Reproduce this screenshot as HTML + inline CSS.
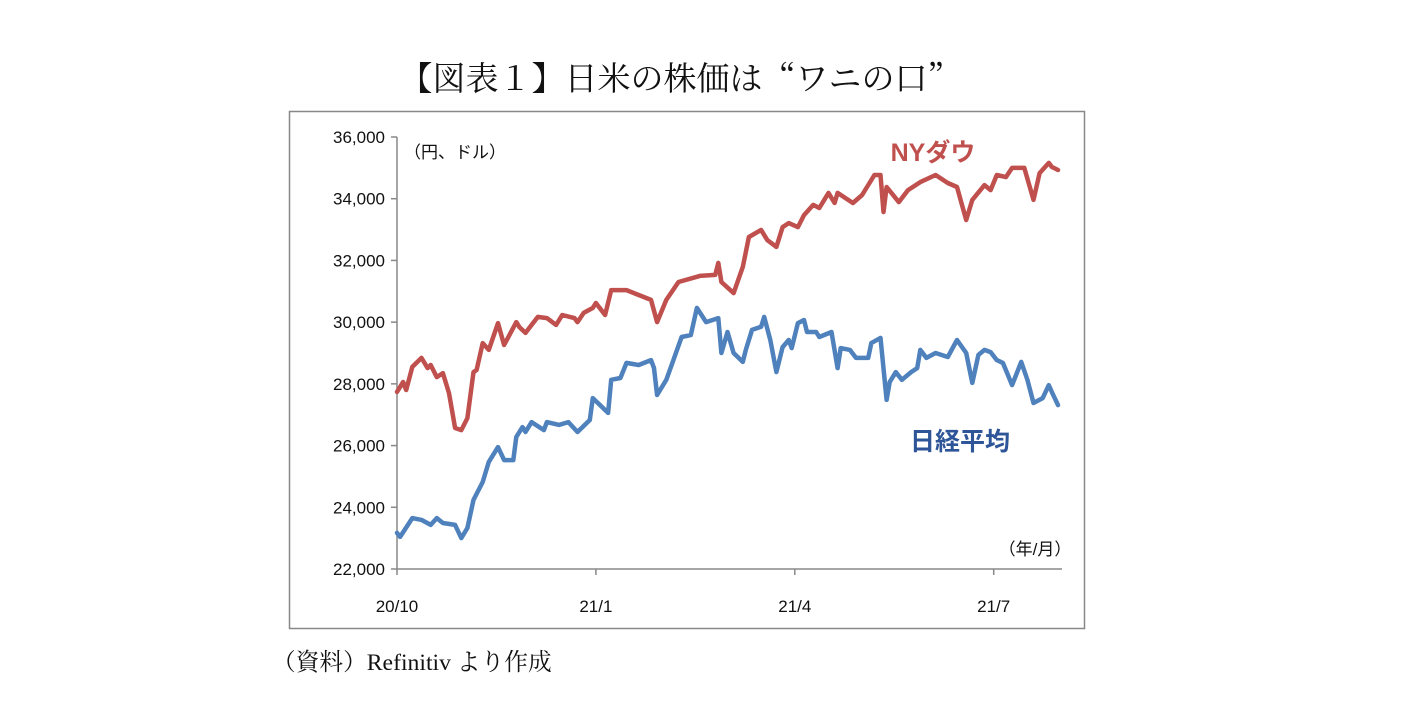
<!DOCTYPE html>
<html><head><meta charset="utf-8"><style>
body{margin:0;background:#fff;width:1401px;height:715px;overflow:hidden}
svg text{font-family:"Liberation Sans","Noto Sans CJK JP",sans-serif}
.serif{font-family:"Liberation Serif","Noto Serif CJK SC",serif !important}
.cjkserif{font-family:"Noto Serif CJK SC",serif !important}
</style></head><body>
<svg width="1401" height="715">
<text class="cjkserif" x="680" y="90" font-size="33" text-anchor="middle" fill="#111">【図表１】日米の株価は“ワニの口”</text>
<rect x="289.5" y="111.5" width="795" height="517" fill="none" stroke="#888" stroke-width="1.5"/>
<g id="axes"></g>
<g id="series"></g>
<text x="455" y="158" font-size="17" text-anchor="middle" fill="#111">（円、ドル）</text>
<text x="1035" y="555" font-size="17" text-anchor="middle" fill="#111">（年/月）</text>
<text x="933" y="161" font-size="25" font-weight="bold" text-anchor="middle" fill="#c0504d">NYダウ</text>
<text x="960" y="450" font-size="25" font-weight="bold" text-anchor="middle" fill="#2e5597">日経平均</text>
<text class="serif" x="272" y="670" font-size="23.7" fill="#111">（資料）Refinitiv より作成</text>
</svg>
<script>
const yTicks=[22000,24000,26000,28000,30000,32000,34000,36000];
const xTickDays=[0,65,130,195];
const xTickLabels=["20/10","21/1","21/4","21/7"];
const dowDays=[0,2,3,5,8,10,11,13,15,17,19,21,23,25,26,28,30,33,35,39,40,42,46,49,52,54,58,59,61,64,65,68,70,75,79,83,85,88,92,99,104,105,106,110,113,115,119,121,124,126,128,131,133,136,138,141,143,144,149,152,156,158,159,160,164,167,171,176,180,183,186,188,192,194,196,199,201,205,208,210,213,214,216];
const dowValues=[27740,28060,27800,28550,28840,28510,28610,28220,28350,27700,26570,26500,26890,28380,28450,29320,29100,29970,29260,30000,29840,29650,30170,30130,29910,30230,30130,30000,30300,30460,30620,30230,31040,31040,30880,30720,30000,30720,31300,31500,31530,31920,31300,30940,31790,32760,32990,32660,32440,33080,33210,33080,33470,33800,33700,34190,33860,34190,33860,34120,34770,34770,33570,34380,33890,34280,34540,34770,34510,34380,33310,33960,34440,34280,34770,34700,35000,35000,33960,34830,35160,35030,34930];
const nkDays=[0,1,5,8,11,13,15,19,21,23,25,28,30,33,35,38,39,41,42,44,48,49,53,56,59,63,64,69,70,73,75,79,83,84,85,88,90,93,96,98,101,105,106,108,110,113,114,116,119,120,122,124,126,128,129,131,133,134,137,138,142,144,145,148,150,154,155,158,160,161,163,165,168,170,171,173,176,180,183,186,188,190,192,194,196,198,201,204,206,208,211,213,214,216];
const nkValues=[23170,23040,23650,23590,23430,23650,23490,23430,23000,23330,24240,24820,25470,25950,25530,25530,26280,26600,26440,26760,26500,26760,26670,26760,26440,26830,27540,27060,28130,28190,28680,28610,28770,28510,27640,28130,28680,29520,29580,30460,30000,30130,29000,29680,29000,28710,29100,29750,29850,30170,29420,28380,29190,29420,29160,29970,30070,29680,29680,29520,29680,28510,29160,29100,28840,28840,29320,29490,27480,28060,28380,28130,28380,28510,29100,28840,29000,28870,29420,29000,28030,28940,29100,29030,28770,28680,27960,28710,28130,27380,27540,27960,27740,27310];
const NS="http://www.w3.org/2000/svg";
function xs(d){return 397+d*3.06;}
function ys(v){return 569-(v-22000)/14000*432;}
const axes=document.getElementById('axes');
function mk(tag,attrs,parent){const e=document.createElementNS(NS,tag);for(const k in attrs)e.setAttribute(k,attrs[k]);parent.appendChild(e);return e;}
let l=mk('line',{x1:397,y1:ys(36000),x2:397,y2:569,stroke:'#888','stroke-width':1.5},axes);


l=mk('line',{x1:397,y1:569,x2:1062,y2:569,stroke:'#888','stroke-width':1.5},axes);


yTicks.forEach(v=>{
 const t=mk('line',{x1:391,y1:ys(v),x2:397,y2:ys(v),stroke:'#888','stroke-width':1.5},axes);
 
 
 const tx=mk('text',{x:385,y:ys(v)+6,'font-size':17,'text-anchor':'end',fill:'#111'},axes);
 tx.textContent=v.toLocaleString('en-US');
 
 
});
xTickDays.forEach((d,i)=>{
 const t=mk('line',{x1:xs(d),y1:569,x2:xs(d),y2:575,stroke:'#888','stroke-width':1.5},axes);
 
 
 const tx=mk('text',{x:xs(d),y:612,'font-size':17,'text-anchor':'middle',fill:'#111'},axes);
 tx.textContent=xTickLabels[i];
 
 
});
const ser=document.getElementById('series');
function line(days,vals,color,name){
 const p=days.map((d,i)=>(i?'L':'M')+xs(d).toFixed(1)+' '+ys(vals[i]).toFixed(1)).join(' ');
 const e=mk('path',{d:p,fill:'none',stroke:color,'stroke-width':4.5,'stroke-linejoin':'round','stroke-linecap':'round'},ser);
 
 
}
line(dowDays,dowValues,'#c0504d','ny-dow-line');
line(nkDays,nkValues,'#4f81bd','nikkei-line');
</script>
</body></html>
